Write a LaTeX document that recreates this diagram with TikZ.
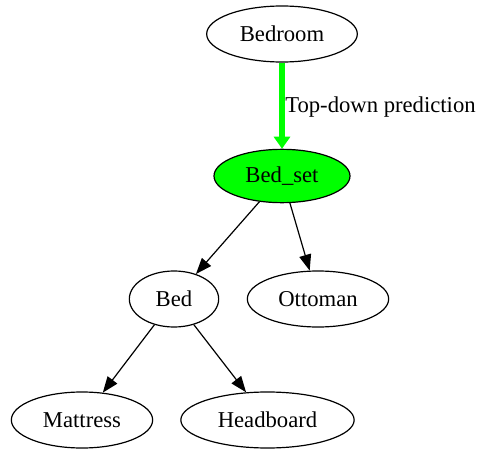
\documentclass[tikz,border=0pt]{standalone}
\usepackage{fontspec}
\setmainfont{Liberation Serif}
\usetikzlibrary{shapes.geometric,arrows.meta}
\definecolor{brightgreen}{RGB}{0,255,0}
\begin{document}
\begin{tikzpicture}[x=0.75pt,y=-0.75pt,
  every node/.style={font=\fontsize{17}{20}\selectfont},
  oval/.style={ellipse,draw=black,line width=0.9pt,inner sep=0pt,minimum height=42pt},
  link/.style={draw=black,line width=0.9pt,-{Triangle[length=12pt,width=9pt]}},
  predict/.style={draw=brightgreen,line width=3.8pt,-{Triangle[length=9pt,width=12pt]}}]
  \useasboundingbox (0,0) rectangle (480,450);
  \node[oval,minimum width=113pt] (bedroom) at (282,34) {Bedroom};
  \node[oval,minimum width=102pt,minimum height=40pt,fill=brightgreen] (bedset) at (282,176) {Bed\_set};
  \node[oval,minimum width=67pt] (bed) at (174,299) {Bed};
  \node[oval,minimum width=106pt] (ottoman) at (318,299) {Ottoman};
  \node[oval,minimum width=106pt] (mattress) at (82,420) {Mattress};
  \node[oval,minimum width=130pt] (headboard) at (267.5,420) {Headboard};
  \node[anchor=west,inner sep=0pt] (predlabel) at (285,107) {Top-down prediction};
  \draw[predict] (bedroom) -- (bedset);
  \draw[link] (bedset) -- (bed);
  \draw[link] (bedset) -- (ottoman);
  \draw[link] (bed) -- (mattress);
  \draw[link] (bed) -- (headboard);
\end{tikzpicture}
\end{document}
